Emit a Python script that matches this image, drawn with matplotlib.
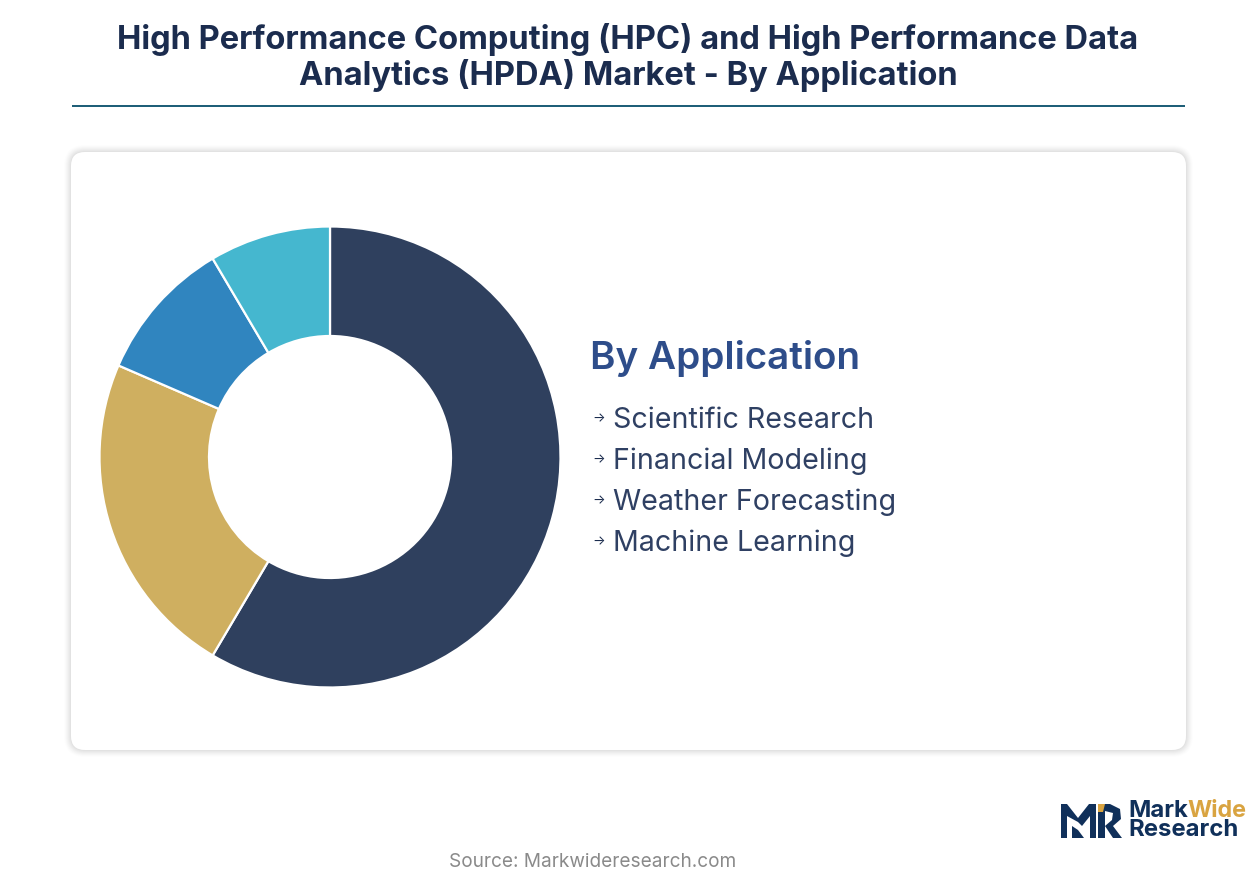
import matplotlib
matplotlib.use("Agg")
import matplotlib.pyplot as plt
from matplotlib.patches import FancyBboxPatch, Polygon, Rectangle

W, H = 1257, 888

title_lines = ["High Performance Computing (HPC) and High Performance Data",
               "Analytics (HPDA) Market - By Application"]
categories = ["Scientific Research", "Financial Modeling", "Weather Forecasting", "Machine Learning"]
values = [58.5, 23.0, 10.0, 8.5]
slice_colors = ["#2F405E", "#CFAF60", "#3085BF", "#45B7CF"]
legend_title = "By Application"
source_text = "Source: Markwideresearch.com"
FONT = "Inter"

fig = plt.figure(figsize=(W / 100, H / 100), dpi=100, facecolor="white")
bg = fig.add_axes([0, 0, 1, 1])
bg.set_xlim(0, W)
bg.set_ylim(H, 0)
bg.axis("off")

# title and rule
for txt, y in zip(title_lines, [39.5, 76]):
    bg.text(628, y, txt, ha="center", va="center", family=FONT, weight="bold",
            fontsize=23.5, color="#1B2C4E")
bg.add_patch(Rectangle((72, 105), 1113, 1.6, fc="#1F5F78", ec="none"))

# card with soft shadow
for grow, a in [(7, 0.006), (6, 0.01), (5, 0.014), (4, 0.016), (3, 0.018), (2, 0.02), (1, 0.022)]:
    bg.add_patch(FancyBboxPatch((71 - grow, 152 - grow), 1115 + 2 * grow, 598 + 2 * grow,
                                boxstyle=f"round,pad=0,rounding_size={14 + grow}",
                                fc="black", ec="none", alpha=a))
bg.add_patch(FancyBboxPatch((71, 152), 1115, 598, boxstyle="round,pad=0,rounding_size=14",
                            fc="white", ec="none"))

# donut
ax = fig.add_axes([99.5 / W, 1 - 687.5 / H, 461 / W, 461 / H])
ax.pie(values, colors=slice_colors, startangle=90, counterclock=False, radius=1,
       wedgeprops=dict(width=1 - 121 / 230.5, edgecolor="white", linewidth=1.6))
ax.set_xlim(-1, 1)
ax.set_ylim(-1, 1)

# legend
bg.text(590, 358, legend_title, ha="left", va="center", family=FONT, weight="semibold",
        fontsize=27.8, color="#2E4D8A")
for cat, y in zip(categories, [420, 461, 502, 543]):
    bg.text(592, y - 1, "\u2192", ha="left", va="center", family=[FONT, "DejaVu Sans"], weight="normal",
            fontsize=9.5, color="#1B2C4E")
    bg.text(613, y, cat, ha="left", va="center", family=FONT, weight="normal",
            fontsize=20.6, color="#2F4063")

# source
bg.text(592.5, 862, source_text, ha="center", va="center", family=FONT, fontsize=13.7, color="#8A8A8A")

# logo
navy = "#10305A"
gold = "#D9A441"
bg.add_patch(Polygon([(1061, 838), (1061, 804), (1067, 804), (1078, 818), (1089, 804), (1096, 804),
                      (1096, 838), (1090, 838), (1090, 816), (1082, 826), (1078, 822), (1067, 816), (1067, 838)],
                     fc=navy, ec="none"))
bg.add_patch(Polygon([(1072, 838), (1072, 826), (1078, 830), (1084, 838)], fc=navy, ec="none"))
bg.add_patch(Polygon([(1098, 838), (1098, 804), (1110, 804), (1120, 809), (1121, 819), (1113, 826),
                      (1122, 838), (1113, 838), (1105, 826), (1112, 820), (1113, 813), (1105, 811), (1105, 838)],
                     fc=navy, ec="none"))
bg.add_patch(Polygon([(1098, 804), (1105, 804), (1103, 812), (1098, 812)], fc=gold, ec="none"))
bg.text(1128, 811, "Mark", ha="left", va="center", family=FONT, weight="bold", fontsize=17.2, color=navy)
bg.text(1187, 811, "Wide", ha="left", va="center", family=FONT, weight="bold", fontsize=16.8, color=gold)
bg.text(1128, 830, "Research", ha="left", va="center", family=FONT, weight="bold", fontsize=17.2, color=navy)

fig.savefig("out.png", dpi=100, facecolor="white")
